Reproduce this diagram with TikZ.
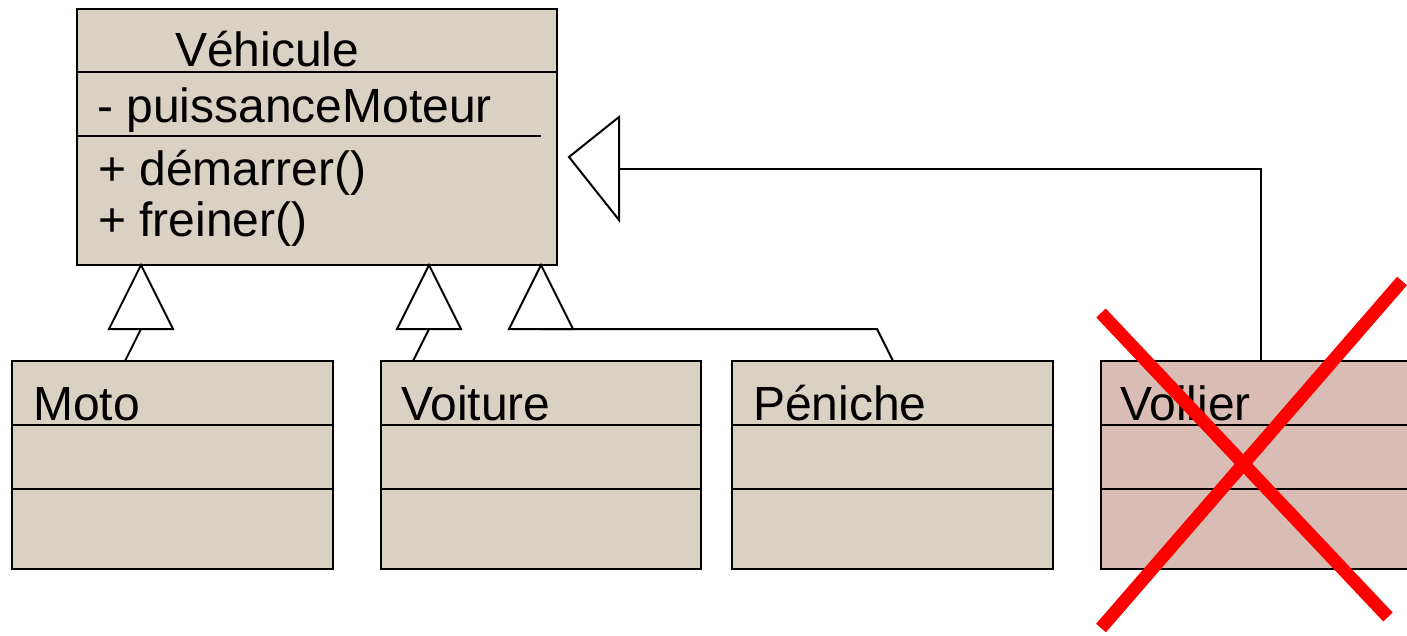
\documentclass[tikz,border=0pt]{standalone}
\usepackage{fontspec}
\setmainfont{Liberation Sans}
\definecolor{boxfill}{RGB}{217,210,195}
\definecolor{voilfill}{RGB}{217,189,180}
\definecolor{xred}{RGB}{255,0,0}
\begin{document}
\begin{tikzpicture}[x=1pt,y=-1pt,
  classbox/.style={draw=black, line width=2pt, fill=boxfill, anchor=north west, inner sep=0pt, outer sep=0pt},
  sepline/.style={draw=black, line width=2pt},
  lbl/.style={anchor=base west, inner sep=0pt, font=\fontsize{48}{58}\selectfont},
  conn/.style={draw=black, line width=2pt},
  tri/.style={draw=black, line width=2pt, fill=white, line join=miter},
  crossline/.style={draw=xred, line width=13pt}]
\clip (0,0) rectangle (1407,635);
\fill[white] (0,0) rectangle (1407,635);
% classes
\node[classbox, minimum width=480pt, minimum height=256pt] (veh) at (77,9) {};
\node[classbox, minimum width=321pt, minimum height=208pt] (moto) at (12,361) {};
\node[classbox, minimum width=320pt, minimum height=208pt] (voit) at (381,361) {};
\node[classbox, minimum width=321pt, minimum height=208pt] (pen) at (732,361) {};
\node[classbox, fill=voilfill, minimum width=340pt, minimum height=208pt] (voil) at (1101,361) {};
% separators
\draw[sepline] ([yshift=-63pt]veh.north west) -- ([yshift=-63pt]veh.north east);
\draw[sepline] ([yshift=-127pt]veh.north west) -- ([yshift=-127pt,xshift=-16pt]veh.north east);
\foreach \b in {moto,voit,pen,voil}{
  \draw[sepline] ([yshift=-64pt]\b.north west) -- ([yshift=-64pt]\b.north east);
  \draw[sepline] ([yshift=-128pt]\b.north west) -- ([yshift=-128pt]\b.north east);
}
% texts
\node[lbl] (tveh) at (175,66) {Véhicule};
\node[lbl] (tattr) at (97,122) {- puissanceMoteur};
\node[lbl] (tm1) at (98,185) {+ démarrer()};
\node[lbl] (tm2) at (98,236) {+ freiner()};
\node[lbl] (tmoto) at (33,420) {Moto};
\node[lbl] (tvoit) at (401,420) {Voiture};
\node[lbl] (tpen) at (753,420) {Péniche};
\node[lbl] (tvoil) at (1120,420) {Voilier};
% coordinates
\coordinate (ap1) at (141,265); \coordinate (bl1) at (109,329); \coordinate (br1) at (173,329); \coordinate (bm1) at (141,329); \coordinate (e1) at (125,361);
\coordinate (ap2) at (429,265); \coordinate (bl2) at (397,329); \coordinate (br2) at (461,329); \coordinate (bm2) at (429,329); \coordinate (e2) at (413,361);
\coordinate (ap3) at (541,265); \coordinate (bl3) at (509,329); \coordinate (br3) at (573,329); \coordinate (bm3) at (541,329); \coordinate (k3) at (877,329); \coordinate (e3) at (893,361);
\coordinate (ap4) at (569,157); \coordinate (bt4) at (619,117); \coordinate (bb4) at (619,220); \coordinate (bm4) at (619,169); \coordinate (k4) at (1261,169); \coordinate (e4) at (1261,361);
% connectors
\draw[conn] (bm1) -- (e1);
\draw[conn] (bm2) -- (e2);
\draw[conn] (bm3) -- (k3) -- (e3);
\draw[conn] (bm4) -- (k4) -- (e4);
% triangles
\draw[tri] (ap1) -- (bl1) -- (br1) -- cycle;
\draw[tri] (ap2) -- (bl2) -- (br2) -- cycle;
\draw[tri] (ap3) -- (bl3) -- (br3) -- cycle;
\draw[tri] (ap4) -- (bt4) -- (bb4) -- cycle;
\draw[conn] (bm3) -- (k3);
% red cross
\coordinate (x1a) at (1101,313); \coordinate (x1b) at (1388,617);
\coordinate (x2a) at (1402,281); \coordinate (x2b) at (1101,628);
\draw[crossline] (x1a) -- (x1b);
\draw[crossline] (x2a) -- (x2b);
\end{tikzpicture}
\end{document}
